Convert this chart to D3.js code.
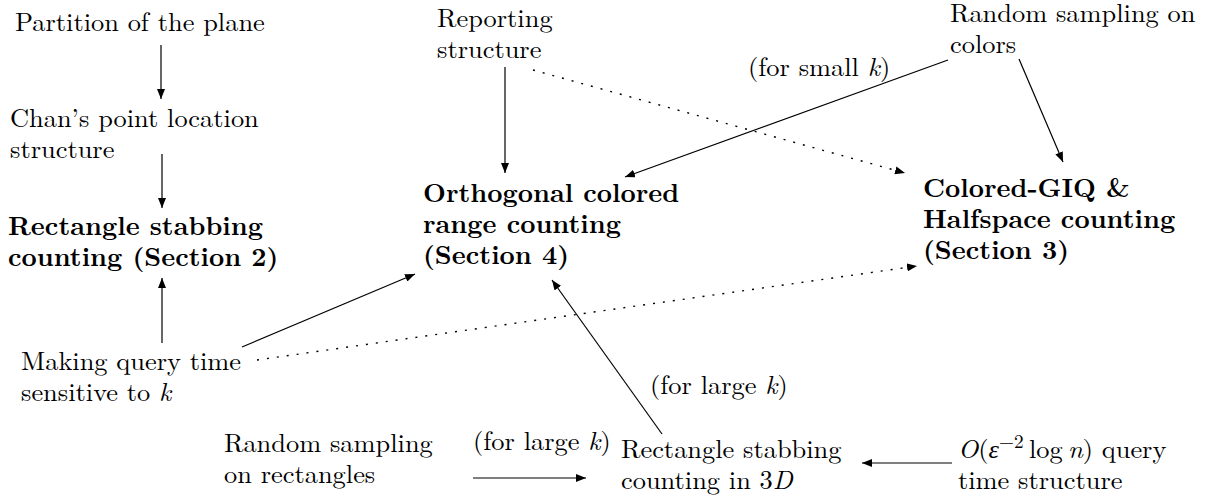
<!DOCTYPE html>
<html>
<head>
<meta charset="utf-8">
<script src="https://cdn.jsdelivr.net/npm/d3@7"></script>
<style>
  body { margin: 0; background: #fff; }
</style>
</head>
<body>
<div id="diagram"></div>
<script>
// Diagram content: node texts, edges and edge labels
// *x* = italic (math), ^x^ = superscript
const nodeNames = ["partition", "chan", "rect2", "making", "reporting", "orth",
    "randColors", "sec3", "randRect", "rect3d", "oquery"];
const nodeLines = [
    ["Partition of the plane"],
    ["Chan\u2019s point location", "structure"],
    ["Rectangle stabbing", "counting (Section 2)"],
    ["Making query time", "sensitive to *k*"],
    ["Reporting", "structure"],
    ["Orthogonal colored", "range counting", "(Section 4)"],
    ["Random sampling on", "colors"],
    ["Colored-GIQ &", "Halfspace counting", "(Section 3)"],
    ["Random sampling", "on rectangles"],
    ["Rectangle stabbing", "counting in 3*D*"],
    ["*O*(*\u03b5*^\u22122^\u2009log\u2009*n*) query", "time structure"]
];
const boldNodes = ["rect2", "orth", "sec3"];

const edgeFrom   = ["partition", "chan", "making", "making", "making", "reporting", "reporting", "randColors", "randColors", "rect3d", "randRect", "oquery"];
const edgeTo     = ["chan", "rect2", "rect2", "orth", "sec3", "orth", "sec3", "orth", "sec3", "orth", "rect3d", "rect3d"];
const edgeDotted = [false, false, false, false, true, false, true, false, false, false, false, false];

const edgeLabels = ["(for small *k*)", "(for large *k*)", "(for large *k*)"];

// Layout (pixels)
const width = 1207, height = 496;
const nodePos = {
    partition: [15, 31], chan: [10, 127], rect2: [8, 235], making: [21, 370],
    reporting: [437, 27], orth: [423, 202], randColors: [950, 22], sec3: [923, 197],
    randRect: [224, 452], rect3d: [621, 458], oquery: [958, 458]
};
const lineGap = 31;
const edgeEnds = [
    [[161, 45], [161, 99]],
    [[162, 154], [162, 208]],
    [[162, 343], [162, 278]],
    [[242, 347], [415, 274]],
    [[257, 360], [917, 266]],
    [[505, 67], [505, 173]],
    [[533, 70], [905, 173]],
    [[948, 60], [625, 177]],
    [[1019, 59], [1063, 162]],
    [[662, 434], [552, 280]],
    [[473, 478], [586, 478]],
    [[952, 463], [862, 463]]
];
const labelPos = [[748, 76], [650, 394], [473, 450]];

const fontFamily = '"Latin Modern Roman", "Liberation Serif", serif';
const fontSize = 26;
// widths of two lines in the reference, used to calibrate the glyph stretch
const calib = { regular: ["Partition of the plane", 250], bold: ["Rectangle stabbing", 255] };

const svg = d3.select("#diagram")
    .append("svg")
    .attr("width", width)
    .attr("height", height);

svg.append("defs").append("marker")
    .attr("id", "head")
    .attr("viewBox", "0 0 10 8")
    .attr("refX", 10)
    .attr("refY", 4)
    .attr("markerUnits", "userSpaceOnUse")
    .attr("markerWidth", 10)
    .attr("markerHeight", 8)
    .attr("orient", "auto")
    .append("path")
    .attr("d", "M0,0 L10,4 L0,8 Z")
    .attr("fill", "#000");

function styleText(t, bold) {
    return t.style("font-family", fontFamily)
        .style("font-size", fontSize + "px")
        .style("font-weight", bold ? "bold" : "normal");
}
function measure(str, bold) {
    const t = styleText(svg.append("text"), bold).text(str);
    const w = t.node().getComputedTextLength();
    t.remove();
    return w;
}
const stretchRegular = calib.regular[1] / measure(calib.regular[0], false);
const stretchBold = calib.bold[1] / measure(calib.bold[0], true);

// Edges
const edges = edgeFrom.map((f, i) => ({ from: f, to: edgeTo[i], dotted: edgeDotted[i], ends: edgeEnds[i] }));
const line = d3.line();

svg.selectAll("path.edge")
    .data(edges)
    .enter().append("path")
    .attr("class", "edge")
    .attr("d", d => line(d.ends))
    .attr("fill", "none")
    .attr("stroke", "#000")
    .attr("stroke-width", d => d.dotted ? 1.4 : 1.2)
    .attr("stroke-dasharray", d => d.dotted ? "2,8" : null)
    .attr("marker-end", "url(#head)");

// Rich text helper: splits "*italic*" and "^super^" runs into tspans
function writeLine(textSel, str) {
    const parts = str.split(/(\*[^*]+\*|\^[^^]+\^)/).filter(s => s.length);
    let raised = false;
    parts.forEach(p => {
        const t = textSel.append("tspan");
        if (p.startsWith("*")) {
            t.text(p.slice(1, -1)).style("font-style", "italic").style("font-weight", "normal");
        } else if (p.startsWith("^")) {
            t.text(p.slice(1, -1)).attr("dy", -10).style("font-size", "19px");
            raised = true;
            return;
        } else {
            t.text(p);
        }
        if (raised) { t.attr("dy", 10); raised = false; }
    });
}

function drawBlock(lines, pos, bold) {
    const s = bold ? stretchBold : stretchRegular;
    lines.forEach((ln, k) => {
        const t = styleText(svg.append("text"), bold)
            .attr("transform", `translate(${pos[0]},${pos[1] + k * lineGap}) scale(${s},1)`)
            .attr("fill", "#000");
        writeLine(t, ln);
    });
}

nodeNames.forEach((n, i) => drawBlock(nodeLines[i], nodePos[n], boldNodes.includes(n)));
edgeLabels.forEach((l, i) => drawBlock([l], labelPos[i], false));
</script>
</body>
</html>
